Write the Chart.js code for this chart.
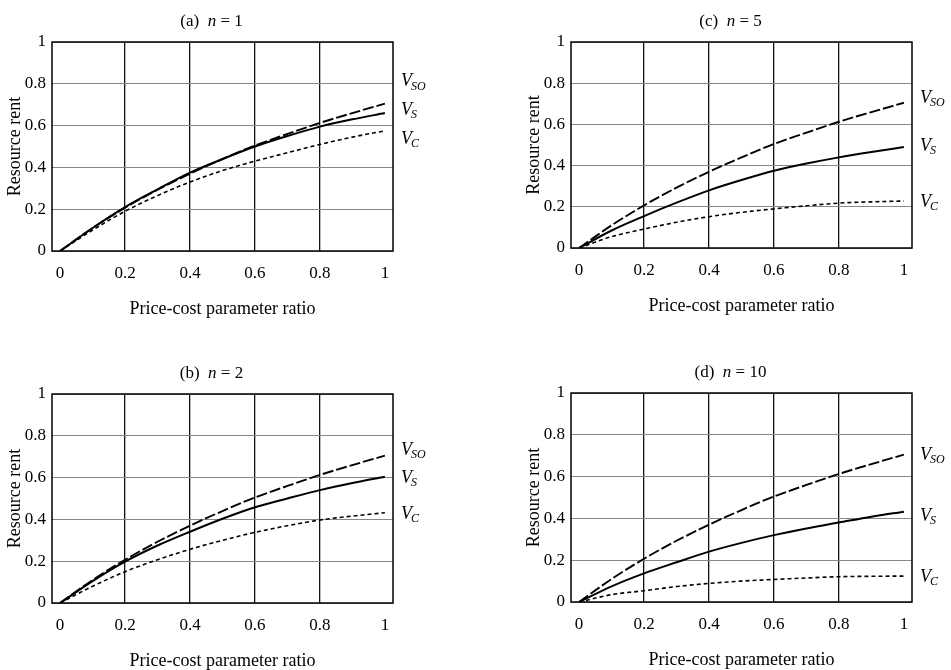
<!DOCTYPE html>
<html>
<head>
<meta charset="utf-8">
<script src="https://cdn.jsdelivr.net/npm/chart.js@4.4.1/dist/chart.umd.min.js"></script>
<style>
  html, body { margin: 0; padding: 0; background: #fff; }
  body { width: 951px; height: 670px; position: relative; overflow: hidden; }
  .panel { position: absolute; }
</style>
</head>
<body>
<div class="panel" id="pa"><canvas id="chartA"></canvas></div>
<div class="panel" id="pb"><canvas id="chartB"></canvas></div>
<div class="panel" id="pc"><canvas id="chartC"></canvas></div>
<div class="panel" id="pd"><canvas id="chartD"></canvas></div>
<script>
// Price-cost parameter ratio
const xValues = [0, 0.1, 0.2, 0.3, 0.4, 0.5, 0.6, 0.7, 0.8, 0.9, 1];
const xTicks = [0, 0.2, 0.4, 0.6, 0.8, 1];
const yTicks = [0, 0.2, 0.4, 0.6, 0.8, 1];
const xTickLabels = ["0", "0.2", "0.4", "0.6", "0.8", "1"];
const yTickLabels = ["0", "0.2", "0.4", "0.6", "0.8", "1"];

// Social optimum rent, same in every panel
const vSO = [0, 0.11, 0.207, 0.293, 0.37, 0.44, 0.505, 0.56, 0.613, 0.66, 0.705];

// (a) n = 1
const vsA = [0, 0.11, 0.21, 0.295, 0.375, 0.44, 0.5, 0.55, 0.595, 0.63, 0.66];
const vcA = [0, 0.1, 0.19, 0.265, 0.33, 0.385, 0.43, 0.47, 0.51, 0.545, 0.575];
// (b) n = 2
const vsB = [0, 0.105, 0.198, 0.275, 0.341, 0.403, 0.458, 0.5, 0.54, 0.574, 0.604];
const vcB = [0, 0.08, 0.15, 0.207, 0.257, 0.3, 0.338, 0.37, 0.397, 0.416, 0.432];
// (c) n = 5
const vsC = [0, 0.085, 0.155, 0.22, 0.28, 0.33, 0.375, 0.41, 0.44, 0.466, 0.49];
const vcC = [0, 0.055, 0.092, 0.125, 0.152, 0.173, 0.19, 0.205, 0.218, 0.224, 0.228];
// (d) n = 10
const vsD = [0, 0.075, 0.137, 0.19, 0.241, 0.283, 0.32, 0.352, 0.38, 0.408, 0.432];
const vcD = [0, 0.035, 0.054, 0.074, 0.089, 0.1, 0.108, 0.115, 0.121, 0.123, 0.124];

const curveNames = [["V", "SO"], ["V", "S"], ["V", "C"]];

// where the plot box of each panel sits on the page, and where its curve labels go
const panels = [
  { canvas: "chartA", wrap: "pa", letter: "a", n: 1, vs: vsA, vc: vcA,
    box: { left: 52, top: 42, w: 341, h: 209 }, labelY: [0.81, 0.675, 0.535] },
  { canvas: "chartB", wrap: "pb", letter: "b", n: 2, vs: vsB, vc: vcB,
    box: { left: 52, top: 394, w: 341, h: 209 }, labelY: [0.732, 0.598, 0.426] },
  { canvas: "chartC", wrap: "pc", letter: "c", n: 5, vs: vsC, vc: vcC,
    box: { left: 571, top: 42, w: 341, h: 206 }, labelY: [0.728, 0.495, 0.223] },
  { canvas: "chartD", wrap: "pd", letter: "d", n: 10, vs: vsD, vc: vcD,
    box: { left: 571, top: 393, w: 341, h: 209 }, labelY: [0.703, 0.411, 0.12] },
];

const SERIF = "'Liberation Serif', 'Times New Roman', serif";
const LEFT = 52, TOP = 42, RIGHT = 82, BOTTOM = 84;

Chart.defaults.font.family = SERIF;
Chart.defaults.color = "#000";

// frame around the plot, panel title and the V labels
const framePlugin = {
  id: "frame",
  afterDraw(chart, args, opts) {
    const { ctx, chartArea: a, scales } = chart;
    ctx.save();
    ctx.strokeStyle = "#000";
    ctx.lineWidth = 1.5;
    ctx.strokeRect(a.left, a.top, a.width, a.height);

    // title "(a)  n = 1"
    const parts = [
      ["(" + opts.letter + ")  ", "normal"],
      ["n", "italic"],
      [" = " + opts.n, "normal"],
    ];
    ctx.fillStyle = "#000";
    ctx.textBaseline = "middle";
    ctx.textAlign = "left";
    let total = 0;
    parts.forEach(p => {
      ctx.font = p[1] + " 17px " + SERIF;
      total += ctx.measureText(p[0]).width;
    });
    let tx = (a.left + a.right) / 2 - 11 - total / 2;
    const ty = a.top - 20;
    parts.forEach(p => {
      ctx.font = p[1] + " 17px " + SERIF;
      ctx.fillText(p[0], tx, ty);
      tx += ctx.measureText(p[0]).width;
    });

    // curve labels
    opts.labelY.forEach((v, i) => {
      const y = scales.y.getPixelForValue(v);
      let x = a.right + 8;
      ctx.font = "italic 18px " + SERIF;
      ctx.fillText(curveNames[i][0], x, y);
      x += ctx.measureText(curveNames[i][0]).width - 1;
      ctx.font = "italic 12px " + SERIF;
      ctx.fillText(curveNames[i][1], x, y + 5);
    });
    ctx.restore();
  },
};

function points(ys) {
  return xValues.map((x, i) => ({ x: x, y: ys[i] }));
}

// only the inner vertical grid lines are drawn
function xGridColor(c) {
  const v = c.tick ? c.tick.value : null;
  return v === 0 || v === 1 ? "rgba(0,0,0,0)" : "#111";
}

panels.forEach(p => {
  const wrap = document.getElementById(p.wrap);
  const cv = document.getElementById(p.canvas);
  const width = LEFT + p.box.w + RIGHT;
  const height = TOP + p.box.h + BOTTOM;
  wrap.style.left = (p.box.left - LEFT) + "px";
  wrap.style.top = (p.box.top - TOP) + "px";
  cv.width = width;
  cv.height = height;
  cv.style.width = width + "px";
  cv.style.height = height + "px";

  new Chart(cv.getContext("2d"), {
    type: "line",
    data: {
      datasets: [
        {
          label: "VSO",
          data: points(vSO),
          borderColor: "#000",
          borderWidth: 1.9,
          borderDash: [11, 3],
        },
        {
          label: "VS",
          data: points(p.vs),
          borderColor: "#000",
          borderWidth: 2,
        },
        {
          label: "VC",
          data: points(p.vc),
          borderColor: "#000",
          borderWidth: 1.6,
          borderDash: [4, 3],
        },
      ],
    },
    options: {
      responsive: false,
      animation: false,
      devicePixelRatio: 1,
      layout: { padding: { left: 0, top: TOP, right: RIGHT, bottom: 0 } },
      elements: {
        point: { radius: 0 },
        line: { cubicInterpolationMode: "monotone", fill: false },
      },
      plugins: {
        legend: { display: false },
        tooltip: { enabled: false },
        frame: { letter: p.letter, n: p.n, labelY: p.labelY },
      },
      scales: {
        x: {
          type: "linear",
          min: -0.025,
          max: 1.025,
          afterBuildTicks: s => { s.ticks = xTicks.map(v => ({ value: v })); },
          afterFit: s => { s.height = BOTTOM; },
          ticks: {
            font: { size: 17 },
            padding: 12,
            maxRotation: 0,
            callback: (v) => xTickLabels[xTicks.indexOf(v)],
          },
          grid: { color: xGridColor, lineWidth: 1.3, drawTicks: false },
          border: { display: false },
          title: {
            display: true,
            text: "Price-cost parameter ratio",
            font: { size: 18 },
            padding: { top: 15, bottom: 15 },
          },
        },
        y: {
          type: "linear",
          min: 0,
          max: 1,
          afterBuildTicks: s => { s.ticks = yTicks.map(v => ({ value: v })); },
          afterFit: s => { s.width = LEFT; },
          ticks: {
            font: { size: 17 },
            padding: 6,
            callback: (v) => yTickLabels[yTicks.indexOf(v)],
          },
          grid: { color: "#888", lineWidth: 1, drawTicks: false },
          border: { display: false },
          title: {
            display: true,
            text: "Resource rent",
            font: { size: 18 },
            padding: { top: 4, bottom: 4 },
          },
        },
      },
    },
    plugins: [framePlugin],
  });
});
</script>
</body>
</html>
